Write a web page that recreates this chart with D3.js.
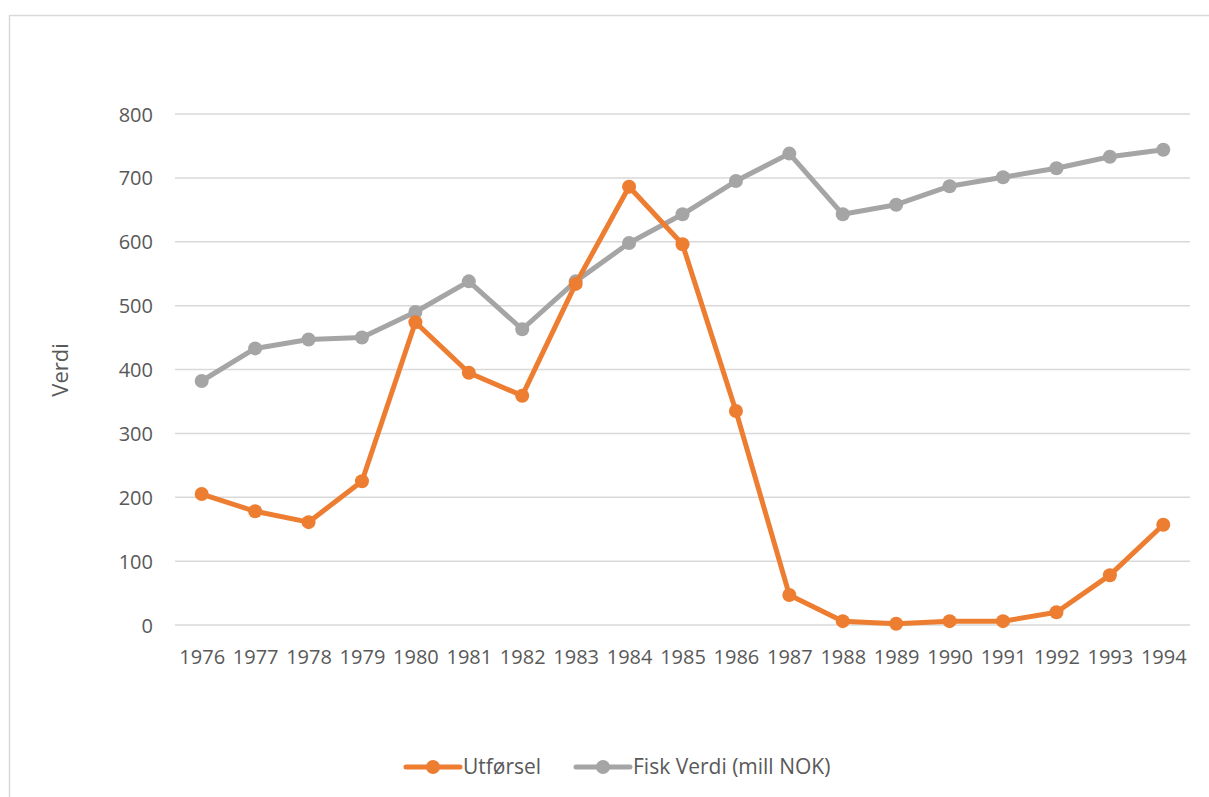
<!DOCTYPE html>
<html><head><meta charset="utf-8">
<script src="https://cdn.jsdelivr.net/npm/d3@7"></script>
<style>body{margin:0;background:#fff}svg{display:block}text{font-family:"Open Sans",sans-serif;fill:#595959}</style>
</head><body>
<svg id="c" width="1209" height="797"></svg>
<script>
const years = [1976,1977,1978,1979,1980,1981,1982,1983,1984,1985,1986,1987,1988,1989,1990,1991,1992,1993,1994];
const utforsel = [205,178,161,225,474,395,359,534,686,596,335,47,6,2,6,6,20,78,157];
const fiskVerdi = [382,433,447,450,490,538,463,538,598,643,695,738,643,658,687,701,715,733,744];
const yTicks = [0,100,200,300,400,500,600,700,800];
const seriesNames = ["Utførsel","Fisk Verdi (mill NOK)"];
const colors = ["#ED7D31","#A5A5A5"];

(function(){
const svg = d3.select("#c");
svg.append("rect").attr("x",9.5).attr("y",15.5).attr("width",1300).attr("height",900)
  .attr("fill","none").attr("stroke","#D9D9D9").attr("stroke-width",1.5);

const pL=175, pR=1190, pT=114, pB=625;
const x = d3.scalePoint().domain(years).range([pL,pR]).padding(0.5);
const y = d3.scaleLinear().domain([0,800]).range([pB,pT]);

svg.append("g").selectAll("line").data(yTicks).join("line")
  .attr("x1",pL).attr("x2",pR).attr("y1",d=>y(d)).attr("y2",d=>y(d))
  .attr("stroke","#D9D9D9").attr("stroke-width",1.5);

const yAxis = svg.append("g").attr("transform",`translate(${pL},0)`)
  .call(d3.axisLeft(y).tickValues(yTicks).tickSize(0).tickPadding(22));
yAxis.select(".domain").remove();
yAxis.selectAll("text").style("font-size","20px").attr("fill","#595959").attr("dy","0.35em");

const xAxis = svg.append("g").attr("transform",`translate(0,${pB})`)
  .call(d3.axisBottom(x).tickSize(0).tickPadding(32));
xAxis.select(".domain").remove();
xAxis.selectAll("text").style("font-size","20px").attr("fill","#595959").attr("dy","0.35em");

svg.append("text").attr("transform",`translate(68,370) rotate(-90)`)
  .attr("text-anchor","middle").style("font-size","22px").text("Verdi");

const line = d3.line().x((d,i)=>x(years[i])).y(d=>y(d));
[[fiskVerdi,colors[1]],[utforsel,colors[0]]].forEach(([s,c])=>{
  svg.append("path").datum(s).attr("d",line).attr("fill","none").attr("stroke",c)
    .attr("stroke-width",5).attr("stroke-linejoin","round").attr("stroke-linecap","round");
  svg.append("g").selectAll("circle").data(s).join("circle")
    .attr("cx",(d,i)=>x(years[i])).attr("cy",d=>y(d)).attr("r",7).attr("fill",c);
});

const legend = svg.append("g");
const items = [{n:seriesNames[0],c:colors[0],x:406},{n:seriesNames[1],c:colors[1],x:576}];
items.forEach(it=>{
  legend.append("line").attr("x1",it.x).attr("x2",it.x+54).attr("y1",767).attr("y2",767)
    .attr("stroke",it.c).attr("stroke-width",5).attr("stroke-linecap","round");
  legend.append("circle").attr("cx",it.x+27).attr("cy",767).attr("r",7).attr("fill",it.c);
  legend.append("text").attr("x",it.x+57).attr("y",767).attr("dy","0.35em")
    .style("font-size","21px").text(it.n);
});
})();
</script>
</body></html>
